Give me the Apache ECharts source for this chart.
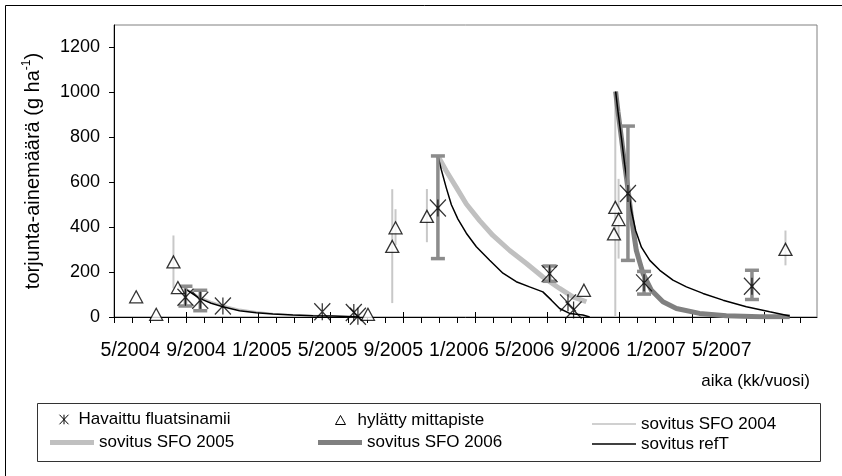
<!DOCTYPE html>
<html><head><meta charset="utf-8">
<script src="https://cdn.jsdelivr.net/npm/echarts@6/dist/echarts.min.js"></script>
<style>html,body{margin:0;padding:0;background:#fff}#c{width:842px;height:476px}</style>
</head><body><div id="c"></div>
<script>
// x = month index (Jan 2004 = 0, so 5/2004 = 4); fraction = position inside the month
const xLabels = ['5/2004','9/2004','1/2005','5/2005','9/2005','1/2006','5/2006','9/2006','1/2007','5/2007'];
const xLabelPos = [4, 8, 12, 16, 20, 24, 28, 32, 36, 40];
const yTicks = [0, 200, 400, 600, 800, 1000, 1200];

// Havaittu fluatsinamii (observed) with error range
const obsX    = [7.35, 8.25, 9.63, 15.68, 17.6, 17.85, 22.72, 29.52, 30.64, 30.98, 34.29, 35.27, 41.84];
const obsY    = [88, 75, 49, 23, 20, 3, 485, 193, 63, 31, 550, 152, 137];
const obsLow  = [49, 28, null, null, null, null, 260, 159, null, null, 252, 102, 78];
const obsHigh = [137, 119, null, null, null, null, 717, 227, null, null, 850, 203, 208];

// hylätty mittapiste (rejected) with error range
const rejX    = [4.35, 5.57, 6.62, 6.89, 18.46, 19.94, 20.14, 22.05, 31.61, 33.52, 33.72, 33.44, 43.88];
const rejY    = [90, 12, 245, 131, 12, 314, 397, 448, 119, 488, 434, 370, 301];
const rejLow  = [null, null, 128, null, null, 62, 320, 333, null, 0, 260, null, 230];
const rejHigh = [null, null, 363, null, null, 569, 480, 570, null, 1000, 615, null, 385];

// fitted curves
const sfo2004X = [7.29, 8.21, 8.92, 9.63, 10.64, 11.66, 12.67, 13.89, 15.11, 16.33, 17.54, 17.95];
const sfo2004Y = [132, 90, 68, 52, 34, 23, 16, 10, 7, 4, 2, 1];
const sfo2005X = [22.72, 23.23, 23.84, 24.45, 25.26, 26.07, 27.09, 28.11, 29.11, 30.13, 30.94, 31.76];
const sfo2005Y = [717, 650, 577, 503, 429, 363, 296, 238, 178, 127, 90, 68];
const sfo2006X = [33.54, 33.68, 33.89, 34.09, 34.29, 34.50, 34.80, 35.21, 35.72, 36.42, 37.24, 38.65, 40.28, 42.31, 44.14];
const sfo2006Y = [1004, 916, 798, 680, 570, 445, 296, 193, 119, 68, 38, 16, 6, 1, 1];
const refT2004X = [7.29, 8.21, 8.92, 9.63, 10.64, 11.66, 12.67, 13.89, 15.11, 16.33, 17.54, 17.95];
const refT2004Y = [127, 83, 61, 46, 28, 19, 13, 9, 6, 4, 1, 0];
const refT2005X = [22.72, 22.93, 23.23, 23.54, 23.94, 24.45, 25.06, 25.87, 26.68, 27.49, 28.30, 29.11, 29.63, 30.13, 30.74, 31.55, 31.96];
const refT2005Y = [717, 655, 575, 500, 436, 373, 313, 253, 195, 157, 134, 112, 75, 38, 16, 9, 0];
const refT2006X = [33.54, 33.68, 33.89, 34.09, 34.29, 34.50, 34.76, 35.11, 35.62, 36.23, 37.03, 37.85, 38.86, 40.08, 41.50, 42.92, 44.14];
const refT2006Y = [1004, 916, 798, 680, 577, 473, 385, 311, 252, 208, 164, 134, 105, 75, 46, 23, 4];

const X_MIN = 3, X_MAX = 45.8;
const majorTicks = [], minorTicks = [];
for (let k = 0; X_MIN + k * 4.397 <= X_MAX; k++) majorTicks.push(X_MIN + k * 4.397);
for (let j = 0; X_MIN + j * 1.0993 <= X_MAX; j++) minorTicks.push(X_MIN + j * 1.0993);

const FONT = '"Liberation Sans", Arial, sans-serif';
const pair = (xs, ys) => xs.map((x, i) => [x, ys[i]]);
const errData = (xs, lo, hi) => xs.map((x, i) => lo[i] == null ? null : [x, lo[i], hi[i]]).filter(d => d);
const XPATH = 'path://M0,0L16,17M16,0L0,17M8,0L8,17';

function errBar(color, width, cap) {
  return function (params, api) {
    const x = api.value(0);
    const p1 = api.coord([x, api.value(1)]);
    const p2 = api.coord([x, api.value(2)]);
    const ch = [{ type: 'line', shape: { x1: p1[0], y1: p1[1], x2: p2[0], y2: p2[1] }, style: { stroke: color, lineWidth: width } }];
    if (cap) {
      ch.push({ type: 'line', shape: { x1: p1[0] - cap, y1: p1[1], x2: p1[0] + cap, y2: p1[1] }, style: { stroke: color, lineWidth: width } });
      ch.push({ type: 'line', shape: { x1: p2[0] - cap, y1: p2[1], x2: p2[0] + cap, y2: p2[1] }, style: { stroke: color, lineWidth: width } });
    }
    return { type: 'group', children: ch };
  };
}

const lineSeries = (name, data, color, width, z) => ({
  name, type: 'line', data, showSymbol: false, symbol: 'none', z,
  color, lineStyle: { color, width }, emphasis: { disabled: true }
});

const legendBase = (name, left, top, icon, w, h, itemStyle, gap) => ({
  data: [{ name, icon, itemStyle }], left, top, itemWidth: w, itemHeight: h,
  selectedMode: false, padding: 0, itemGap: 0,
  textStyle: { fontSize: 17, color: '#000', fontFamily: FONT, padding: [0, 0, 0, gap] }
});

const chart = echarts.init(document.getElementById('c'), null, { renderer: 'canvas' });
chart.setOption({
  animation: false,
  backgroundColor: '#fff',
  textStyle: { fontFamily: FONT },
  grid: { left: 114, right: 25, top: 25, bottom: 159, show: true, borderColor: '#808080', borderWidth: 1 },
  xAxis: [{
    type: 'value', min: X_MIN, max: X_MAX, position: 'bottom',
    axisLine: { show: true, onZero: false, lineStyle: { color: '#000', width: 1 } },
    axisTick: { show: true, inside: true, length: 5, customValues: majorTicks, lineStyle: { color: '#000' } },
    axisLabel: {
      show: true, customValues: xLabelPos, margin: 24, color: '#000', fontSize: 19.5, fontFamily: FONT,
      formatter: v => xLabels[xLabelPos.indexOf(Math.round(v))] || ''
    },
    splitLine: { show: false }
  }, {
    type: 'value', min: X_MIN, max: X_MAX, position: 'bottom',
    axisLine: { show: false, onZero: false },
    axisTick: { show: true, inside: false, length: 6, customValues: minorTicks, lineStyle: { color: '#000' } },
    axisLabel: { show: false },
    splitLine: { show: false }
  }],
  yAxis: {
    type: 'value', min: 0, max: 1300, interval: 200,
    axisLine: { show: true, lineStyle: { color: '#000', width: 1 } },
    axisTick: { show: true, length: 5, customValues: yTicks, lineStyle: { color: '#000' } },
    axisLabel: { customValues: yTicks, margin: 14, color: '#000', fontSize: 18, fontFamily: FONT, formatter: v => String(v) },
    splitLine: { show: false }
  },
  legend: [
    legendBase('Havaittu fluatsinamii', 57, 411, XPATH, 9, 10, { color: 'none', borderColor: '#000', borderWidth: 1 }, 5),
    legendBase('hylätty mittapiste', 335, 411.5, 'triangle', 10, 9, { color: '#fff', borderColor: '#000', borderWidth: 1 }, 7),
    legendBase('sovitus SFO 2004', 592, 415.5, 'rect', 44, 1.5, { color: '#c0c0c0', borderWidth: 0 }, 0),
    legendBase('sovitus SFO 2005', 50, 434, 'rect', 44, 5, { color: '#c0c0c0', borderWidth: 0 }, 0),
    legendBase('sovitus SFO 2006', 318, 434, 'rect', 44, 5, { color: '#808080', borderWidth: 0 }, 0),
    legendBase('sovitus refT', 592, 435.5, 'rect', 44, 1.5, { color: '#000', borderWidth: 0 }, 0)
  ],
  graphic: [
    { type: 'rect', shape: { x: 5.5, y: 5.5, width: 900, height: 900 }, style: { fill: 'none', stroke: '#000', lineWidth: 1 }, silent: true, z: 0 },
    { type: 'rect', shape: { x: 37.5, y: 403.5, width: 783, height: 58 }, style: { fill: 'none', stroke: '#333', lineWidth: 1 }, silent: true },
    {
      type: 'text', x: 33, y: 171, rotation: Math.PI / 2, silent: true,
      style: {
        text: '{a|torjunta-ainemäärä (g ha}{s|-1}{a|)}', align: 'center', verticalAlign: 'middle',
        rich: { a: { fontSize: 20, fontFamily: FONT, fill: '#000', lineHeight: 24 }, s: { fontSize: 12, fontFamily: FONT, fill: '#000', verticalAlign: 'top', lineHeight: 12 } }
      }
    },
    { type: 'text', x: 810, y: 381, silent: true, style: { text: 'aika (kk/vuosi)', align: 'right', verticalAlign: 'middle', fontSize: 17, fontFamily: FONT, fill: '#000' } }
  ],
  series: [
    { name: 'hylätty mittapiste', type: 'custom', renderItem: errBar('#c8c8c8', 2, 0), data: errData(rejX, rejLow, rejHigh), encode: { x: 0, y: [1, 2] }, z: 1, silent: true },
    lineSeries('sovitus SFO 2004', pair(sfo2004X, sfo2004Y), '#c0c0c0', 1.5, 2),
    lineSeries('sovitus SFO 2005', pair(sfo2005X, sfo2005Y), '#c0c0c0', 5, 2),
    lineSeries('sovitus SFO 2006', pair(sfo2006X, sfo2006Y), '#808080', 5, 2),
    lineSeries('sovitus refT', pair(refT2004X, refT2004Y), '#000', 1.5, 3),
    lineSeries('sovitus refT', pair(refT2005X, refT2005Y), '#000', 1.5, 3),
    lineSeries('sovitus refT', pair(refT2006X, refT2006Y), '#000', 1.5, 3),
    { name: 'Havaittu fluatsinamii', type: 'custom', renderItem: errBar('#8c8c8c', 3.5, 7), data: errData(obsX, obsLow, obsHigh), encode: { x: 0, y: [1, 2] }, z: 4, silent: true },
    {
      name: 'hylätty mittapiste', type: 'scatter', data: pair(rejX, rejY), symbol: 'triangle', symbolSize: [13, 12], z: 5,
      itemStyle: { color: '#fff', borderColor: '#000', borderWidth: 1.3 }, emphasis: { disabled: true }
    },
    {
      name: 'Havaittu fluatsinamii', type: 'scatter', data: pair(obsX, obsY), symbol: XPATH, symbolSize: [16, 17], z: 6,
      itemStyle: { color: 'none', borderColor: '#000', borderWidth: 1.3 }, emphasis: { disabled: true }
    }
  ]
});
</script></body></html>
